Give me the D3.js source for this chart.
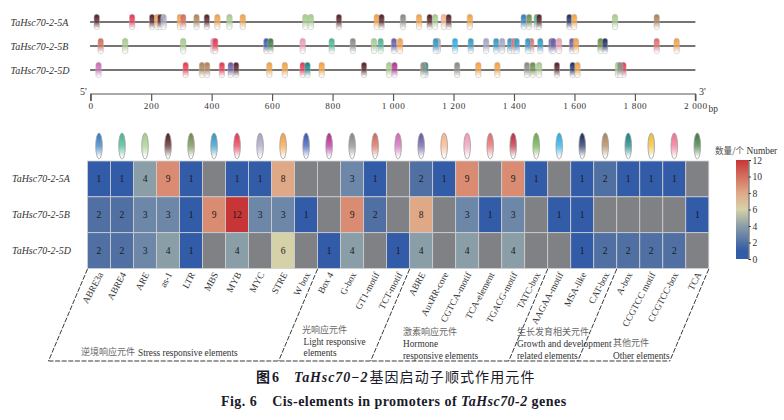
<!DOCTYPE html>
<html><head><meta charset="utf-8">
<script src="https://cdn.jsdelivr.net/npm/d3@7"></script>
<style>html,body{margin:0;padding:0;background:#fff}svg{display:block}</style>
</head><body><svg id="c" width="784" height="420"></svg>
<script>
const elements=["ABRE3a","ABRE4","ARE","as-1","LTR","MBS","MYB","MYC","STRE","W box","Box 4","G-box","GT1-motif","TCT-motif","ABRE","AuxRR-core","CGTCA-motif","TCA-element","TGACG-motif","TATC-box","AAGAA-motif","MSA-like","CAT-box","A-box","CCGTCC motif","CCGTCC-box","TCA"];
const elementColors=["#3b82c4","#4fb89a","#a9cf8f","#5a2a30","#76924f","#3a9cc8","#e8405a","#a8a8c8","#f5a54a","#4060b8","#b8389a","#8a9088","#d87060","#d070b8","#7060a8","#f8b890","#f0a0b8","#e87070","#c03848","#70b050","#30b0e8","#283868","#b08860","#208888","#f0c040","#f07898","#488048"];
const genes=["TaHsc70-2-5A","TaHsc70-2-5B","TaHsc70-2-5D"];
const counts5A=[1,1,4,9,1,0,1,1,8,0,0,3,1,0,2,1,9,0,9,1,0,1,2,1,1,1,0];
const counts5B=[2,2,3,3,1,9,12,3,3,1,0,9,2,0,8,0,3,1,3,0,1,1,0,0,0,0,1];
const counts5D=[2,2,3,4,1,0,4,0,6,0,1,4,0,1,4,0,4,0,4,0,0,1,2,2,2,2,0];
const sites5A=[[20,"as-1"],[137,"MYB"],[203,"as-1"],[220,"STRE"],[230,"as-1"],[241,"MYC"],[295,"STRE"],[306,"GT1-motif"],[350,"CAT-box"],[384,"as-1"],[419,"STRE"],[459,"ARE"],[503,"STRE"],[710,"ARE"],[728,"ARE"],[821,"as-1"],[946,"STRE"],[962,"as-1"],[1033,"G-box"],[1086,"STRE"],[1121,"as-1"],[1139,"ARE"],[1168,"AuxRR-core"],[1184,"as-1"],[1254,"STRE"],[1432,"ABRE3a"],[1450,"LTR"],[1475,"ABRE4"],[1483,"as-1"],[1583,"MSA-like"],[1599,"STRE"],[1734,"ARE"],[1872,"CAT-box"]];
const sites5B=[[33,"GT1-motif"],[114,"ARE"],[306,"ARE"],[406,"CGTCA-motif"],[412,"MYB"],[581,"W box"],[595,"TCA"],[701,"CGTCA-motif"],[797,"ABRE4"],[867,"G-box"],[937,"ARE"],[959,"ABRE4"],[1003,"ABRE"],[1023,"STRE"],[1148,"MYC"],[1141,"MBS"],[1205,"AAGAA-motif"],[1257,"MBS"],[1308,"MYC"],[1341,"MBS"],[1361,"MYC"],[1387,"MBS"],[1400,"TCA-element"],[1409,"MBS"],[1457,"TCA-element"],[1446,"MBS"],[1487,"MBS"],[1524,"ABRE"],[1530,"ABRE"],[1549,"CGTCA-motif"],[1592,"ABRE"],[1605,"STRE"],[1686,"LTR"],[1701,"MSA-like"],[1872,"TCA-element"],[1938,"STRE"]];
const sites5D=[[26,"TCT-motif"],[314,"MYB"],[368,"CAT-box"],[385,"CAT-box"],[434,"MYB"],[463,"ABRE"],[481,"as-1"],[591,"STRE"],[642,"STRE"],[701,"MYB"],[717,"A-box"],[764,"STRE"],[904,"as-1"],[987,"ARE"],[1005,"Box 4"],[1107,"A-box"],[1100,"G-box"],[1212,"G-box"],[1282,"STRE"],[1345,"STRE"],[1443,"G-box"],[1462,"LTR"],[1483,"ARE"],[1542,"as-1"],[1594,"MSA-like"],[1610,"STRE"],[1762,"MYB"],[1744,"ARE"],[1751,"G-box"]];
const axisTicks=[0,200,400,600,800,1000,1200,1400,1600,1800,2000];
const scaleTicks=[0,2,4,6,8,10,12];
const groupEdges=[0,10,14,20,23,27];

const serif="'Liberation Serif','Times New Roman',serif", cjk="'Noto Sans CJK SC',sans-serif";
const svg=d3.select("#c");
const defs=svg.append("defs");
const colorOf=d3.scaleOrdinal(elements,elementColors);
const gid=d3.scaleOrdinal(elements,elements.map((_,i)=>"g"+i));
elements.forEach(e=>{
  const g=defs.append("linearGradient").attr("id",gid(e)).attr("x1",0).attr("y1",0).attr("x2",0).attr("y2",1);
  g.append("stop").attr("offset","12%").attr("stop-color",colorOf(e));
  g.append("stop").attr("offset","48%").attr("stop-color",colorOf(e)).attr("stop-opacity",.78);
  g.append("stop").attr("offset","92%").attr("stop-color","#fff");
});

// gene structure
const x=d3.scaleLinear().domain([0,2000]).range([90.7,695.4]);
const rowY=d3.scalePoint().domain(genes).range([22,70]);
[sites5A,sites5B,sites5D].forEach((sites,i)=>{
  const y=rowY(genes[i]);
  svg.append("text").attr("x",10.5).attr("y",y+4).attr("font-family",serif).attr("font-style","italic").attr("font-size",10).attr("fill","#333").text(genes[i]);
  svg.append("line").attr("x1",x(-2)).attr("x2",x(2000)).attr("y1",y).attr("y2",y).attr("stroke","#4a4643").attr("stroke-width",1.5);
  svg.append("g").selectAll("rect").data(sites).join("rect")
    .attr("x",d=>x(d[0])-2.7).attr("y",y-7.7).attr("width",5.4).attr("height",15.4).attr("rx",2.7)
    .attr("fill",d=>`url(#${gid(d[1])})`).attr("stroke","#b5b5b5").attr("stroke-width",.5);
});
const axG=svg.append("g").attr("transform","translate(0,94)").call(d3.axisBottom(x).tickValues(axisTicks).tickSize(7).tickPadding(1.5)
  .tickFormat(d=>d>=1000?`${Math.floor(d/1000)} ${String(d%1000).padStart(3,"0")}`:d));
axG.selectAll("path,line").attr("stroke","#5a5652").attr("stroke-width",1.2);
axG.select("path").attr("d",`M${x(0)},7V0H${x(2000)}V7`);
axG.selectAll("text").attr("font-family",serif).attr("font-size",9.2).attr("letter-spacing",.6).attr("fill","#333");
const small=(t,xp,yp,fs=10)=>svg.append("text").attr("x",xp).attr("y",yp).attr("font-family",serif).attr("font-size",fs).attr("fill","#333").text(t);
small("5'",80,95);small("3'",699,95);small("bp",708.5,111.5,9.4);

// heat map
const cols=d3.scaleBand().domain(elements).range([87.5,708.8]);
const rows=d3.scaleBand().domain(genes).range([161,268.5]);
const color=d3.scaleLinear().domain([1,2,3,4,6,8,9,12]).range(["#325ba8","#5070a4","#6d87a8","#8a9ea8","#d5d1a8","#dfa988","#d98c72","#c73636"]).clamp(true);
svg.append("g").selectAll("ellipse").data(elements).join("ellipse")
  .attr("cx",d=>cols(d)+cols.bandwidth()/2).attr("cy",146).attr("rx",3.3).attr("ry",13)
  .attr("fill",d=>`url(#${gid(d)})`).attr("stroke","#a0a0a0").attr("stroke-width",.8);
[counts5A,counts5B,counts5D].forEach((vals,i)=>{
  const g=genes[i],gr=svg.append("g");
  gr.selectAll("rect").data(vals).join("rect")
    .attr("x",(d,j)=>cols(elements[j])).attr("y",rows(g)).attr("width",cols.bandwidth()).attr("height",rows.bandwidth())
    .attr("fill",d=>d===0?"#808184":color(d)).attr("stroke","#cfcfd2").attr("stroke-width",.8);
  gr.selectAll("text").data(vals).join("text")
    .attr("x",(d,j)=>cols(elements[j])+cols.bandwidth()/2).attr("y",rows(g)+rows.bandwidth()/2+3.2)
    .attr("text-anchor","middle").attr("font-family",serif).attr("font-size",9.6).attr("fill","#1a1a1a").text(d=>d===0?"":d);
  svg.append("text").attr("x",12).attr("y",rows(g)+rows.bandwidth()/2+3.5).attr("font-family",serif).attr("font-style","italic").attr("font-size",10).attr("fill","#333").text(g);
});
svg.append("g").selectAll("text").data(elements).join("text")
  .attr("transform",d=>`translate(${cols(d)+cols.bandwidth()/2+2},273) rotate(-62)`)
  .attr("text-anchor","end").attr("dy","0.3em").attr("font-family",serif).attr("font-size",9.4).attr("fill","#333").text(d=>d);

// colour bar
const barY=d3.scaleLinear().domain([0,12]).range([259,160]);
const cb=defs.append("linearGradient").attr("id","cb").attr("x1",0).attr("y1",1).attr("x2",0).attr("y2",0);
d3.range(0,12.01,.5).forEach(v=>cb.append("stop").attr("offset",v/12).attr("stop-color",color(v)));
svg.append("rect").attr("x",736).attr("y",160).attr("width",12.5).attr("height",99).attr("fill","url(#cb)");
const bg=svg.append("g").attr("transform","translate(748.5,0)").call(d3.axisRight(barY).tickValues(scaleTicks).tickSize(2.5).tickPadding(1.5));
bg.selectAll("path,line").attr("stroke","#222").attr("stroke-width",.8);
bg.selectAll("text").attr("font-family",serif).attr("font-size",9.6).attr("fill","#333");
const title=svg.append("text").attr("x",715).attr("y",154).attr("font-size",8.6).attr("fill","#555");
title.append("tspan").attr("font-family",cjk).text("数量/个");
title.append("tspan").attr("font-family",serif).attr("fill","#333").attr("font-size",9.4).text(" Number");

// group brackets
const edgeX=i=>i===elements.length?708.8:cols(elements[i]);
const bracket=svg.append("g").attr("stroke","#222").attr("stroke-width",.9).attr("stroke-dasharray","5 1.6").attr("fill","none");
groupEdges.forEach(i=>bracket.append("line").attr("x1",edgeX(i)).attr("y1",269).attr("x2",edgeX(i)-39).attr("y2",361));
bracket.append("line").attr("x1",edgeX(0)-39).attr("x2",edgeX(27)-39).attr("y1",361).attr("y2",361);
const cn=(t,xp,yp)=>svg.append("text").attr("x",xp).attr("y",yp).attr("font-family",cjk).attr("font-size",9).attr("fill","#666").text(t);
cn("逆境响应元件",81,355);small("Stress responsive elements",138,356,9.3);
cn("光响应元件",302,333);small("Light responsive",303.5,345,9.3);small("elements",303.5,356,9.3);
cn("激素响应元件",403,335);small("Hormone",403,347,9.3);small("responsive elements",403,358.5,9.3);
cn("生长发育相关元件",517,335);small("Growth and development",517,347,9.3);small("related elements",517,359,9.3);
cn("其他元件",613,346);small("Other elements",613,359,9.3);

// captions
const c1=svg.append("text").attr("x",256).attr("y",382).attr("font-size",14).attr("font-weight",700).attr("fill","#1a1a2a");
c1.append("tspan").attr("font-family",cjk).text("图");
c1.append("tspan").attr("font-family",serif).attr("dx",2).text("6");
c1.append("tspan").attr("font-family",serif).attr("font-style","italic").attr("dx",15).attr("letter-spacing",.9).text("TaHsc70−2");
c1.append("tspan").attr("font-family",cjk).attr("font-weight",400).attr("dx",1).attr("letter-spacing",1.1).text("基因启动子顺式作用元件");
const c2=svg.append("text").attr("x",221).attr("y",406).attr("font-family",serif).attr("font-size",14).attr("font-weight",700).attr("letter-spacing",.46).attr("fill","#1a1a2a");
c2.append("tspan").text("Fig. 6");
c2.append("tspan").attr("dx",15).text("Cis-elements in promoters of ");
c2.append("tspan").attr("font-style","italic").text("TaHsc70-2");
c2.append("tspan").text(" genes");
</script></body></html>
